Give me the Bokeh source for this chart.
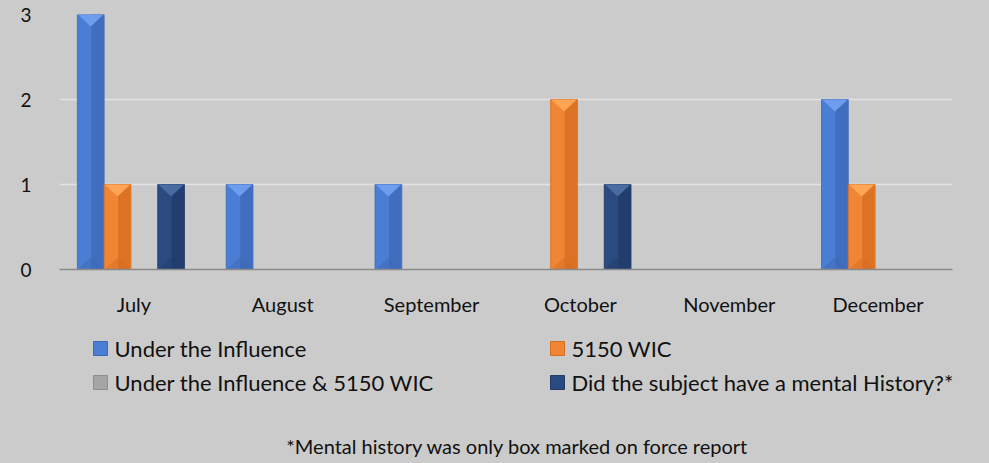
from bokeh.plotting import figure
from bokeh.layouts import column
from bokeh.models import FixedTicker, Range1d, ColumnDataSource
from bokeh.core.properties import value
from bokeh.embed import file_html
from bokeh.resources import INLINE

# ---- data ----
months = ["July", "August", "September", "October", "November", "December"]
under_influence = [3, 1, 1, 0, 0, 2]
wic_5150 = [1, 0, 0, 2, 0, 1]
both = [0, 0, 0, 0, 0, 0]
mental_history = [1, 0, 0, 1, 0, 0]
series_names = ["Under the Influence", "5150 WIC",
                "Under the Influence & 5150 WIC",
                "Did the subject have a mental History?*"]
series_values = [under_influence, wic_5150, both, mental_history]
y_ticks = [0, 1, 2, 3]
footnote = "*Mental history was only box marked on force report"

# ---- styles ----
BG = "#cbcbcb"
FONT = "Lato"
base_cols = ["#4a7dd4", "#f08634", "#a5a5a5", "#2a4a80"]
dark_cols = ["#3d68b5", "#d56c1f", "#8e8e8e", "#203b69"]
light_cols = ["#6e9df0", "#ffa556", "#c8c8c8", "#4a6aa3"]
offsets = [-0.29, -0.11, 0.07, 0.25]
bw = 0.18

W = 989
H1 = 318
H2 = 145
L, R = 59, 37

p = figure(width=W, height=H1, output_backend="svg", toolbar_location=None,
           x_range=Range1d(-0.5, len(months) - 0.5), y_range=Range1d(0, 3),
           min_border_left=L, min_border_right=R, min_border_top=14,
           min_border_bottom=47)
p.background_fill_color = BG
p.border_fill_color = BG
p.outline_line_color = None

for k, vals in enumerate(series_values):
    xs = [i + offsets[k] for i, v in enumerate(vals) if v > 0]
    tops = [v for v in vals if v > 0]
    if not xs:
        continue
    src = ColumnDataSource(dict(x=xs, top=tops))
    p.vbar(x="x", top="top", width=bw, source=src, fill_color=base_cols[k],
           line_color=dark_cols[k], line_width=0.8)
    src2 = ColumnDataSource(dict(x=[x + bw / 4 for x in xs], top=tops))
    p.vbar(x="x", top="top", width=bw / 2 - 0.008, source=src2,
           fill_color=dark_cols[k], line_color=None, fill_alpha=0.75)
    d = 0.14
    tx = [[x - bw / 2 + 0.004, x + bw / 2 - 0.004, x] for x in xs]
    ty = [[t, t, t - d] for t in tops]
    p.patches(tx, ty, fill_color=light_cols[k], line_color=None)
    by = [[0, 0, d] for t in tops]
    p.patches(tx, by, fill_color=dark_cols[k], line_color=None, fill_alpha=0.5)

p.xaxis.ticker = FixedTicker(ticks=list(range(len(months))))
p.xaxis.major_label_overrides = {i: m for i, m in enumerate(months)}
p.xaxis.axis_line_color = "#8a8a8a"
p.xaxis.axis_line_width = 1.5
p.xaxis.major_tick_line_color = None
p.xaxis.minor_tick_line_color = None
p.xaxis.major_label_standoff = 16
p.xaxis.major_label_text_font = FONT
p.xaxis.major_label_text_font_size = "20px"
p.xaxis.major_label_text_color = "#111111"

p.yaxis.ticker = FixedTicker(ticks=y_ticks)
p.yaxis.axis_line_color = None
p.yaxis.major_tick_line_color = None
p.yaxis.minor_tick_line_color = None
p.yaxis.major_label_standoff = 22
p.yaxis.major_label_text_font = FONT
p.yaxis.major_label_text_font_size = "19px"
p.yaxis.major_label_text_color = "#111111"

p.xgrid.grid_line_color = None
p.ygrid.grid_line_color = "#e2e2e2"
p.ygrid.grid_line_width = 1.5

# ---- legend + footnote figure (x data units == page pixels) ----
q = figure(width=W, height=H2, output_backend="svg", toolbar_location=None,
           x_range=Range1d(L, W - R), y_range=Range1d(H2, 0),
           min_border_left=L, min_border_right=R, min_border_top=0,
           min_border_bottom=0, x_axis_location=None, y_axis_location=None)
q.background_fill_color = BG
q.border_fill_color = BG
q.outline_line_color = None
q.grid.visible = False

leg_x = [100, 557, 100, 557]
leg_y = [30, 30, 64, 64]
q.rect(x=leg_x, y=leg_y, width=14, height=14, fill_color=base_cols,
       line_color=dark_cols, line_width=1)
q.text(x=[x + 14 for x in leg_x], y=leg_y, text=series_names,
       text_font=value(FONT), text_font_size="22px", text_baseline="middle",
       text_align="left", text_color="#111111")
q.text(x=[517], y=[127], text=[footnote], text_font=value(FONT),
       text_font_size="20px", text_baseline="middle", text_align="center",
       text_color="#111111")

layout = column(p, q, spacing=0)
layout.background = BG
open("out.html", "w").write(file_html(layout, INLINE))
